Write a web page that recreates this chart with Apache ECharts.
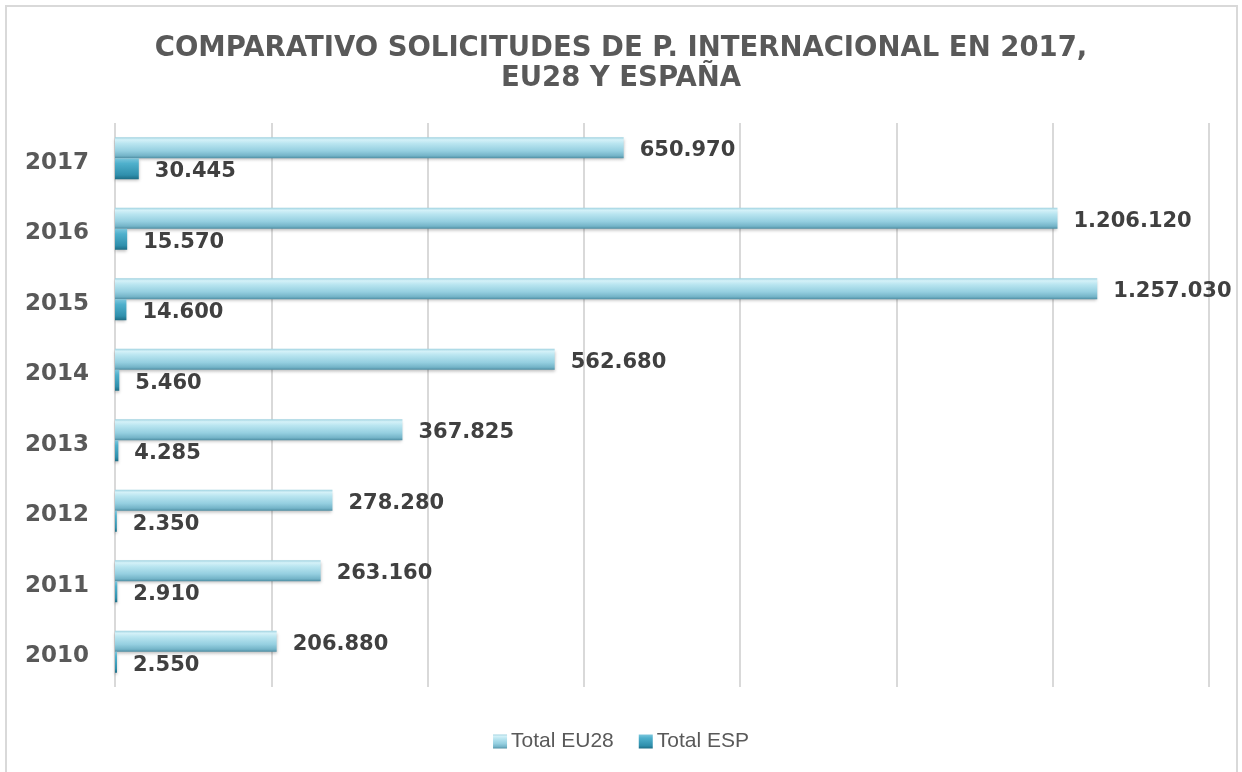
<!DOCTYPE html>
<html>
<head>
<meta charset="utf-8">
<script src="https://cdn.jsdelivr.net/npm/echarts@6/dist/echarts.min.js"></script>
<style>
  html, body { margin: 0; padding: 0; background: #fff; }
  #chart { width: 1242px; height: 772px; }
</style>
</head>
<body>
<div id="chart"></div>
<script>
const years = ['2017', '2016', '2015', '2014', '2013', '2012', '2011', '2010'];
const totalEU28 = [650970, 1206120, 1257030, 562680, 367825, 278280, 263160, 206880];
const totalESP = [30445, 15570, 14600, 5460, 4285, 2350, 2910, 2550];

// numbers with spanish thousand separator
function fmt(v) {
  return String(v).replace(/\B(?=(\d{3})+(?!\d))/g, '.');
}

const eu28Color = new echarts.graphic.LinearGradient(0, 0, 0, 1, [
  { offset: 0, color: '#9fd2e0' },
  { offset: 0.12, color: '#d4f1f8' },
  { offset: 0.3, color: '#b9e5f0' },
  { offset: 0.65, color: '#95cfe0' },
  { offset: 0.88, color: '#74b4c8' },
  { offset: 1, color: '#4f8ea3' }
]);
const espColor = new echarts.graphic.LinearGradient(0, 0, 0, 1, [
  { offset: 0, color: '#7cc6dc' },
  { offset: 0.25, color: '#4fb0cc' },
  { offset: 0.8, color: '#2f8fac' },
  { offset: 1, color: '#1e6c84' }
]);

const labelStyle = {
  show: true,
  position: 'right',
  distance: 16,
  offset: [0, 3],
  fontFamily: 'DejaVu Sans',
  fontWeight: 'bold',
  fontSize: 21,
  color: '#404040',
  formatter: p => fmt(p.value)
};

const chart = echarts.init(document.getElementById('chart'));
chart.setOption({
  backgroundColor: '#fff',
  animation: false,
  graphic: [{
    type: 'rect',
    shape: { x: 6, y: 6, width: 1231, height: 780 },
    style: { fill: 'none', stroke: '#d9d9d9', lineWidth: 2 },
    silent: true
  }],
  title: {
    text: 'COMPARATIVO SOLICITUDES DE P. INTERNACIONAL EN 2017,\nEU28 Y ESPAÑA',
    left: 'center',
    top: 29,
    textStyle: {
      fontFamily: 'DejaVu Sans',
      fontWeight: 'bold',
      fontSize: 27.5,
      lineHeight: 30,
      color: '#595959'
    }
  },
  legend: {
    data: ['Total EU28', 'Total ESP'],
    left: 'center',
    top: 726,
    itemWidth: 14,
    itemHeight: 14,
    itemGap: 25,
    icon: 'rect',
    textStyle: { fontFamily: 'Liberation Sans', fontSize: 21, color: '#595959', padding: [0, 0, 0, -1] }
  },
  grid: { left: 115, right: 33, top: 123, bottom: 85 },
  xAxis: {
    type: 'value',
    min: 0,
    max: 1400000,
    interval: 200000,
    axisLabel: { show: false },
    axisLine: { show: false },
    axisTick: { show: false },
    splitLine: { lineStyle: { color: '#d9d9d9', width: 2 } }
  },
  yAxis: {
    type: 'category',
    data: years,
    inverse: true,
    axisLine: { show: false },
    axisTick: { show: false },
    axisLabel: {
      margin: 26,
      formatter: '{y|{value}}',
      rich: {
        y: {
          padding: [9, 0, 0, 0],
          fontFamily: 'DejaVu Sans',
          fontWeight: 'bold',
          fontSize: 23,
          color: '#595959'
        }
      }
    }
  },
  series: [
    {
      name: 'Total EU28',
      type: 'bar',
      data: totalEU28,
      barWidth: 21,
      barGap: '0%',
      itemStyle: {
        color: eu28Color,
        shadowColor: 'rgba(0,0,0,0.25)',
        shadowBlur: 3,
        shadowOffsetY: 2
      },
      label: labelStyle
    },
    {
      name: 'Total ESP',
      type: 'bar',
      data: totalESP,
      barWidth: 21,
      barGap: '0%',
      itemStyle: {
        color: espColor,
        shadowColor: 'rgba(0,0,0,0.25)',
        shadowBlur: 3,
        shadowOffsetY: 2
      },
      label: labelStyle
    }
  ]
});
</script>
</body>
</html>
